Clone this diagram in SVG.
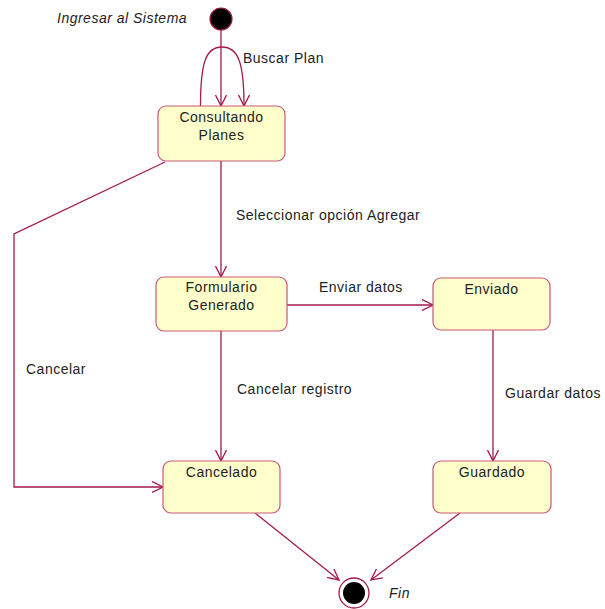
<svg xmlns="http://www.w3.org/2000/svg" width="605" height="609" viewBox="0 0 605 609">
  <defs>
    <marker id="open" viewBox="0 0 12 12" refX="11" refY="6" markerWidth="12" markerHeight="12" markerUnits="userSpaceOnUse" orient="auto">
      <path d="M0,0.5 L11,6 L0,11.5" fill="none" stroke="#a31a4d" stroke-width="1.3"/>
    </marker>
  </defs>
  <style>
    .state { fill: #ffffcc; stroke: #c9587a; stroke-width: 1.2; }
    .edge { fill: none; stroke: #a31a4d; stroke-width: 1.3; marker-end: url(#open); }
    text { font-family: "Liberation Sans", Arial, sans-serif; font-size: 14px; letter-spacing: 0.5px; fill: #222; }
    .it { font-style: italic; }
    .mid { text-anchor: middle; }
  </style>
  <rect width="605" height="609" fill="#ffffff"/>

  <g id="connectors">
    <line class="edge" x1="221" y1="30" x2="221" y2="106"/>
    <path class="edge" d="M200.5,106 C200.5,62 206,47 222,47 C238,47 244,62 244,106"/>
    <line class="edge" x1="221" y1="161" x2="221" y2="277"/>
    <polyline class="edge" points="165,162 14,234 14,487 163,487"/>
    <line class="edge" x1="287" y1="305" x2="433" y2="305"/>
    <line class="edge" x1="221" y1="331" x2="221" y2="461"/>
    <line class="edge" x1="493" y1="330" x2="493" y2="461"/>
    <line class="edge" x1="255" y1="513" x2="339" y2="580"/>
    <line class="edge" x1="460" y1="513" x2="371" y2="580"/>
    <text x="243" y="63">Buscar Plan</text>
    <text x="236" y="220">Seleccionar opción Agregar</text>
    <text x="319" y="292">Enviar datos</text>
    <text x="26" y="374">Cancelar</text>
    <text x="237" y="394">Cancelar registro</text>
    <text x="505" y="398">Guardar datos</text>
  </g>

  <g id="inicio">
    <circle cx="221" cy="19" r="11" fill="#000" stroke="#a31a4d" stroke-width="1.2"/>
    <text class="it" x="57" y="23">Ingresar al Sistema</text>
  </g>

  <g id="consultando-planes">
    <rect class="state" x="158" y="106" width="127" height="55" rx="8"/>
    <text class="mid" x="221.5" y="122">Consultando</text>
    <text class="mid" x="221.5" y="140">Planes</text>
  </g>

  <g id="formulario-generado">
    <rect class="state" x="156" y="277" width="131" height="54" rx="8"/>
    <text class="mid" x="221.5" y="292">Formulario</text>
    <text class="mid" x="221.5" y="310">Generado</text>
  </g>

  <g id="enviado">
    <rect class="state" x="433" y="278" width="117" height="52" rx="8"/>
    <text class="mid" x="491.5" y="294">Enviado</text>
  </g>

  <g id="cancelado">
    <rect class="state" x="163" y="461" width="117" height="52" rx="8"/>
    <text class="mid" x="221.5" y="477">Cancelado</text>
  </g>

  <g id="guardado">
    <rect class="state" x="433" y="461" width="118" height="52" rx="8"/>
    <text class="mid" x="492" y="477">Guardado</text>
  </g>

  <g id="fin">
    <circle cx="354" cy="593" r="15" fill="#fff" stroke="#a31a4d" stroke-width="1.3"/>
    <circle cx="354" cy="593" r="11" fill="#000"/>
    <text class="it" x="389" y="598">Fin</text>
  </g>
</svg>
